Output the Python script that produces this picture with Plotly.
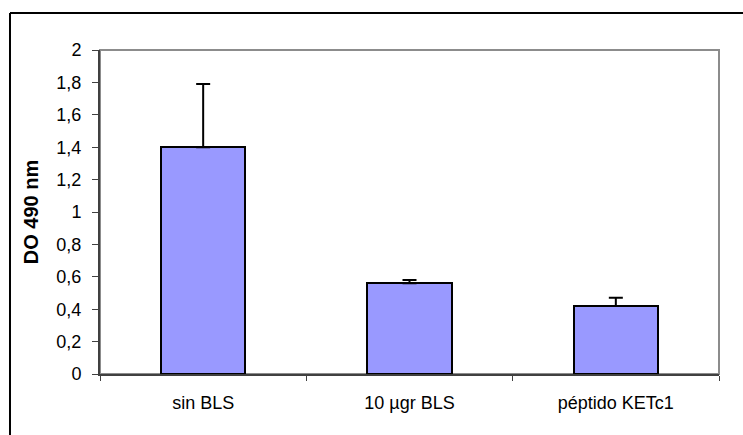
import plotly.graph_objects as go

# Absorbance readings per condition
categories = ["sin BLS", "10 µgr BLS", "péptido KETc1"]
od_values = [1.40, 0.56, 0.42]
od_errors = [0.39, 0.02, 0.05]

# Y-axis ticks, decimal comma labels
y_tickvals = [0, 0.2, 0.4, 0.6, 0.8, 1.0, 1.2, 1.4, 1.6, 1.8, 2.0]
y_ticktext = ["0", "0,2", "0,4", "0,6", "0,8", "1", "1,2", "1,4", "1,6", "1,8", "2"]

FONT = "Arial, 'Liberation Sans', sans-serif"

fig = go.Figure()
fig.add_trace(go.Bar(
    x=categories,
    y=od_values,
    width=0.41,
    marker=dict(color="#9999FF", line=dict(color="#000000", width=2)),
    error_y=dict(
        type="data",
        symmetric=False,
        array=od_errors,
        arrayminus=[0] * len(od_errors),
        color="#000000",
        thickness=2,
        width=7,
    ),
    showlegend=False,
))

fig.update_layout(
    width=743,
    height=435,
    margin=dict(l=100, r=24, t=50, b=61),
    paper_bgcolor="#FFFFFF",
    plot_bgcolor="#FFFFFF",
    separators=",.",
    font=dict(family=FONT, size=18, color="#000000"),
    bargap=0,
    shapes=[
        # gray plot-area border
        dict(type="rect", xref="paper", yref="paper", x0=0, x1=1, y0=0, y1=1,
             line=dict(color="#8C8C8C", width=2), layer="below"),
        # chart-area frame (left and top edges)
        dict(type="line", xref="paper", yref="paper", x0=-0.1454, x1=-0.1454,
             y0=1.1142, y1=-0.4, line=dict(color="#000000", width=2)),
        dict(type="line", xref="paper", yref="paper", x0=-0.1454, x1=1.2,
             y0=1.1142, y1=1.1142, line=dict(color="#000000", width=2)),
    ],
)

fig.update_xaxes(
    range=[-0.5, 2.5],
    showline=True, linecolor="#404040", linewidth=2,
    ticks="outside", tickson="boundaries", ticklen=5, tickwidth=1, tickcolor="#404040",
    showgrid=False, zeroline=False,
    tickfont=dict(family=FONT, size=18, color="#000000"),
    ticklabelstandoff=11,
)

fig.update_yaxes(
    range=[0, 2],
    tickvals=y_tickvals, ticktext=y_ticktext,
    showline=True, linecolor="#404040", linewidth=2,
    ticks="outside", ticklen=6, tickwidth=1, tickcolor="#404040",
    showgrid=False, zeroline=False,
    tickfont=dict(family=FONT, size=18, color="#000000"),
    ticklabelstandoff=7,
    title=dict(text="<b>DO 490 nm</b>", font=dict(family=FONT, size=20, color="#000000"),
               standoff=12),
)

fig.write_html("out.html")
